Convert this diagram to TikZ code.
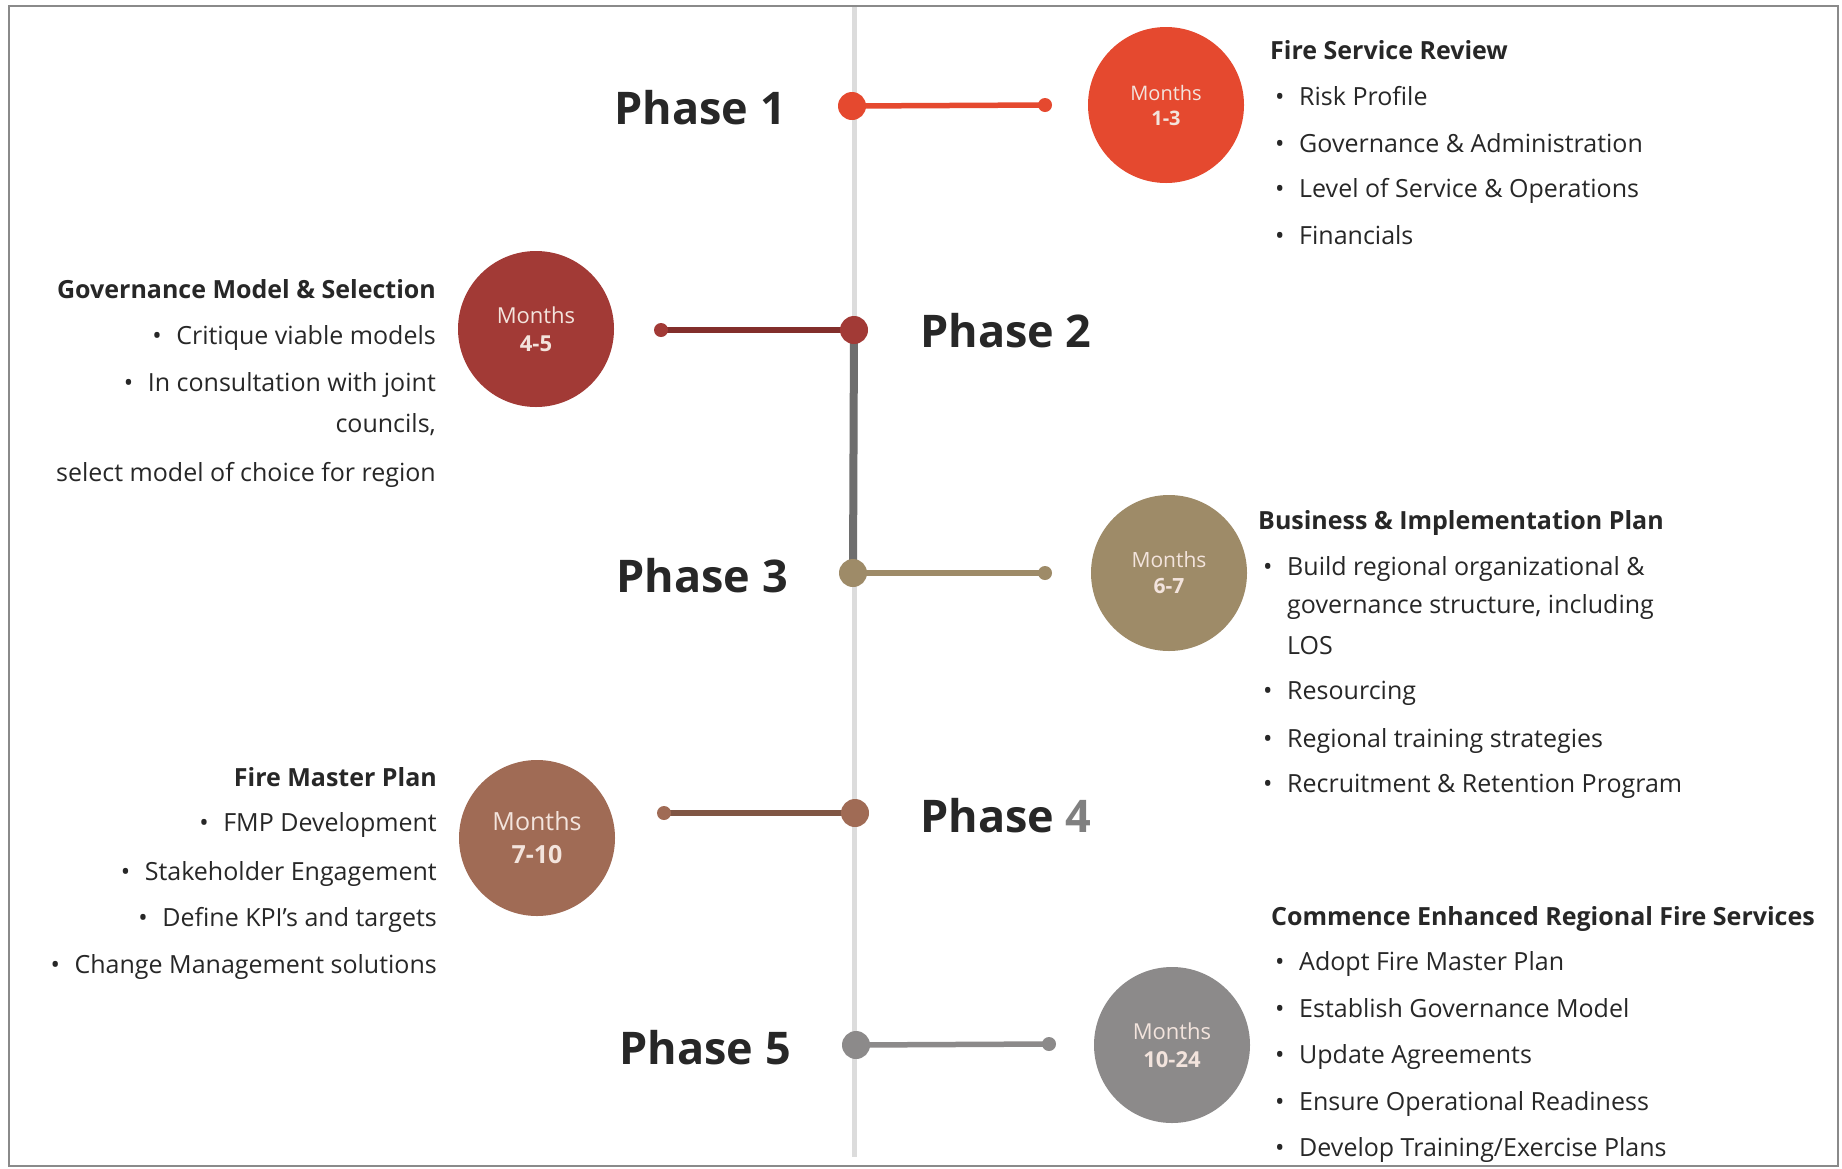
\documentclass[tikz,border=0pt]{standalone}
\usepackage{fontspec}
\setmainfont{Open Sans}
\usetikzlibrary{backgrounds}

\definecolor{inkdark}{HTML}{272727}
\definecolor{framegray}{HTML}{8A8A8A}
\definecolor{railgray}{HTML}{DCDCDC}
\definecolor{linkgray}{HTML}{6E6E6E}
\definecolor{phaseA}{HTML}{E5492F}
\definecolor{phaseB}{HTML}{A23A36}
\definecolor{phaseC}{HTML}{9E8B68}
\definecolor{phaseD}{HTML}{A06B55}
\definecolor{phaseE}{HTML}{8C8A8A}
\definecolor{circtext}{HTML}{F3E4DD}

\tikzset{
  phaselabel/.style={inner sep=0pt, text=inkdark,
    font=\bfseries\fontsize{45}{50}\selectfont},
  hub/.style={circle, fill=#1, minimum size=28pt, inner sep=0pt},
  tipdot/.style={circle, fill=#1, minimum size=14pt, inner sep=0pt},
  months/.style={circle, fill=#1, minimum size=156pt, inner sep=0pt,
    align=center, text=circtext},
  spoke/.style={line width=5.5pt, draw=#1},
  heading/.style={inner sep=0pt, text=inkdark, text height=17pt, text depth=5pt,
    font=\bfseries\fontsize{25}{28}\selectfont},
  item/.style={inner sep=0pt, text=inkdark, text height=19pt, text depth=6pt,
    font=\fontsize{25}{28}\selectfont},
}
\newcommand{\bul}{\makebox[24pt][l]{\textbullet}}

\begin{document}
\begin{tikzpicture}[x=1pt,y=-1pt]
\useasboundingbox (0,0) rectangle (1842,1168);

% timeline rail end points
\coordinate (railtop) at (854,7);
\coordinate (railbot) at (854,1157);

% hubs on the rail and the small end dots of the spokes
\node[hub=phaseA] (hub1) at (852,106) {};
\node[hub=phaseB] (hub2) at (854,330) {};
\node[hub=phaseC] (hub3) at (853,573) {};
\node[hub=phaseD] (hub4) at (855,813) {};
\node[hub=phaseE] (hub5) at (856,1045) {};

\node[tipdot=phaseA] (tip1) at (1045,105) {};
\node[tipdot=phaseB] (tip2) at (661,330) {};
\node[tipdot=phaseC] (tip3) at (1045,573) {};
\node[tipdot=phaseD] (tip4) at (664,813) {};
\node[tipdot=phaseE] (tip5) at (1049,1044) {};

\begin{pgfonlayer}{background}
  \fill[white] (0,0) rectangle (1842,1168);
  \draw[framegray, line width=2pt] (9,6) rectangle (1838,1166);
  \draw[railgray, line width=5pt] (railtop) -- (railbot);
  \draw[linkgray, line width=8pt] (hub2.center) -- (hub3.center);
  \draw[spoke=phaseA] (hub1.center) -- (tip1.center);
  \draw[spoke=phaseB!80!black] (hub2.center) -- (tip2.center);
  \draw[spoke=phaseC] (hub3.center) -- (tip3.center);
  \draw[spoke=phaseD!80!black] (hub4.center) -- (tip4.center);
  \draw[spoke=phaseE] (hub5.center) -- (tip5.center);
\end{pgfonlayer}

% phase labels
\node[phaselabel, anchor=east] (p1) at (786,108) {Phase 1};
\node[phaselabel, anchor=west] (p2) at (920,331) {Phase 2};
\node[phaselabel, anchor=east] (p3) at (788,576) {Phase 3};
\node[phaselabel, anchor=west] (p4) at (920,816) {Phase \textcolor{gray}{4}};
\node[phaselabel, anchor=east] (p5) at (791,1048) {Phase 5};

% month circles
\node[months=phaseA, font=\fontsize{20}{25}\selectfont] (m1) at (1166,105)
  {Months\\\textbf{1-3}};
\node[months=phaseB, font=\fontsize{22}{28}\selectfont] (m2) at (536,329)
  {Months\\\textbf{4-5}};
\node[months=phaseC, font=\fontsize{21}{26}\selectfont] (m3) at (1169,573)
  {Months\\\textbf{6-7}};
\node[months=phaseD, font=\fontsize{25}{33}\selectfont] (m4) at (537,838)
  {Months\\\textbf{7-10}};
\node[months=phaseE, font=\fontsize{22}{28}\selectfont] (m5) at (1172,1045)
  {Months\\\textbf{10-24}};

% Phase 1 details
\node[heading, anchor=west] (h1) at (1270,53) {Fire Service Review};
\node[item, anchor=west] (a1) at (1275,99) {\bul Risk Profile};
\node[item, anchor=west] (a2) at (1275,146) {\bul Governance \& Administration};
\node[item, anchor=west] (a3) at (1275,191) {\bul Level of Service \& Operations};
\node[item, anchor=west] (a4) at (1275,238) {\bul Financials};

% Phase 2 details
\node[heading, anchor=east] (h2) at (436,292) {Governance Model \& Selection};
\node[item, anchor=east] (b1) at (436,338) {\bul Critique viable models};
\node[item, anchor=east] (b2) at (436,385) {\bul In consultation with joint};
\node[item, anchor=east] (b3) at (436,426) {councils,};
\node[item, anchor=east] (b4) at (436,475) {select model of choice for region};

% Phase 3 details
\node[heading, anchor=west] (h3) at (1258,523) {Business \& Implementation Plan};
\node[item, anchor=west] (c1) at (1263,569) {\bul Build regional organizational \&};
\node[item, anchor=west] (c2) at (1287,607) {governance structure, including};
\node[item, anchor=west] (c3) at (1287,648) {LOS};
\node[item, anchor=west] (c4) at (1263,693) {\bul Resourcing};
\node[item, anchor=west] (c5) at (1263,741) {\bul Regional training strategies};
\node[item, anchor=west] (c6) at (1263,786) {\bul Recruitment \& Retention Program};

% Phase 4 details
\node[heading, anchor=east] (h4) at (437,780) {Fire Master Plan};
\node[item, anchor=east] (d1) at (437,825) {\bul FMP Development};
\node[item, anchor=east] (d2) at (437,874) {\bul Stakeholder Engagement};
\node[item, anchor=east] (d3) at (437,920) {\bul Define KPI's and targets};
\node[item, anchor=east] (d4) at (437,967) {\bul Change Management solutions};

% Phase 5 details
\node[heading, anchor=west] (h5) at (1271,919) {Commence Enhanced Regional Fire Services};
\node[item, anchor=west] (e1) at (1275,964) {\bul Adopt Fire Master Plan};
\node[item, anchor=west] (e2) at (1275,1011) {\bul Establish Governance Model};
\node[item, anchor=west] (e3) at (1275,1057) {\bul Update Agreements};
\node[item, anchor=west] (e4) at (1275,1104) {\bul Ensure Operational Readiness};
\node[item, anchor=west] (e5) at (1275,1150) {\bul Develop Training/Exercise Plans};
\end{tikzpicture}
\end{document}
